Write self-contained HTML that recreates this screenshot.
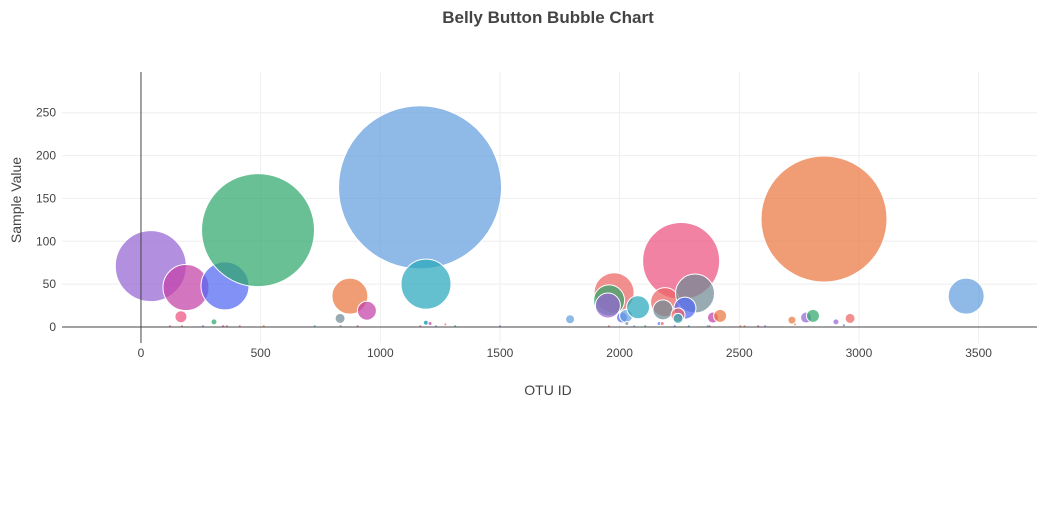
<!DOCTYPE html>
<html><head><meta charset="utf-8"><style>
body{margin:0;background:#fff;font-family:"Open Sans","Liberation Sans",sans-serif}
svg text{font-family:"Liberation Sans",sans-serif;fill:#444}
</style></head><body>
<svg id="chart" width="1046" height="510" xmlns="http://www.w3.org/2000/svg">
<text x="548" y="23" text-anchor="middle" font-size="17" font-weight="bold" style="fill:#444">Belly Button Bubble Chart</text>
<g id="grid"></g><g id="bubbles"></g><g id="axes"></g>
<text x="548" y="395" text-anchor="middle" font-size="14">OTU ID</text>
<text transform="translate(21,200) rotate(-90)" text-anchor="middle" font-size="14">Sample Value</text>
</svg>
<script>
const otuIds = [41,188,351,489,873,944,1166,1191,1187,167,305,832,1191,1208,1272,
1793,1977,1956,1951,2010,2027,2077,2030,2257,2190,2181,2315,2273,2244,2244,2390,2420,2720,2779,2808,2904,2963,3448,2854,2165,2178,2733,2937,
121,171,259,343,359,413,513,726,834,905,1167,1233,1313,1500,1955,2061,2107,2230,2289,2368,2376,2505,2522,2579,2608];
const sampleValues = [71,46,48,113,36,19,163,50,5,12,6,10,5,4,3,
9,40,31,25,11,13,23,4,77,29,20,39,22,14,10,11,13,8,11,13,6,10,36,126,4,4,3,2,
1,1,1,1,1,1,1,1,1,1,1,1,1,1,1,1,1,1,1,1,1,1,1,1,1];
const colorIdx = [8,7,6,2,1,7,0,3,3,4,2,9,3,7,5,
0,5,2,8,6,0,3,9,4,5,9,9,6,5,3,7,1,1,8,2,8,5,0,1,6,4,1,6,
4,5,8,7,4,5,1,3,9,7,4,0,2,8,5,0,3,6,3,0,4,1,5,7,8];
const yTicks = [0,50,100,150,200,250];
const xTicks = [0,500,1000,1500,2000,2500,3000,3500];
const palette = ['rgb(100,158,222)','rgb(234,118,62)','rgb(48,168,108)','rgb(40,168,188)','rgb(236,82,128)','rgb(236,100,100)','rgb(82,102,242)','rgb(196,64,168)','rgb(150,100,212)','rgb(112,138,148)'];
const L=62,R=1037,T=72,B=343;
const xMin=-330,xMax=3744,yMin=-18.7,yMax=297.5;
const xs=v=>L+(v-xMin)/(xMax-xMin)*(R-L);
const ys=v=>B-(v-yMin)/(yMax-yMin)*(B-T);
const NS='http://www.w3.org/2000/svg';
function mk(t,a,p){const e=document.createElementNS(NS,t);for(const k in a)e.setAttribute(k,a[k]);p.appendChild(e);return e;}
const grid=document.getElementById('grid'),axes=document.getElementById('axes'),bub=document.getElementById('bubbles');
yTicks.forEach(v=>{
 const y=ys(v);
 if(v!==0){const g=mk('line',{x1:L,x2:R,y1:y,y2:y,stroke:'#eee'},grid);
 
 }
 const t=mk('text',{x:L-6,y:y+4,'text-anchor':'end','font-size':12},axes);t.textContent=v;
 
 
});
xTicks.forEach(v=>{
 const x=xs(v);
 if(v!==0){const g=mk('line',{x1:x,x2:x,y1:T,y2:B,stroke:'#eee'},grid);
 
 }
 const t=mk('text',{x:x,y:B+14,'text-anchor':'middle','font-size':12},axes);t.textContent=v;
 
 
});
const zx=mk('line',{x1:xs(0),x2:xs(0),y1:T,y2:B,stroke:'#444','stroke-width':1},axes);


const zy=mk('line',{x1:L,x2:R,y1:ys(0),y2:ys(0),stroke:'#444','stroke-width':1},axes);


otuIds.forEach((id,i)=>{
 const v=sampleValues[i];
 const c=mk('circle',{cx:xs(id),cy:ys(v),r:Math.max(v/2,1),fill:palette[colorIdx[i]],'fill-opacity':0.72,stroke:'#fff','stroke-width':v>2?1:0},bub);
 
 
});
</script>
</body></html>
